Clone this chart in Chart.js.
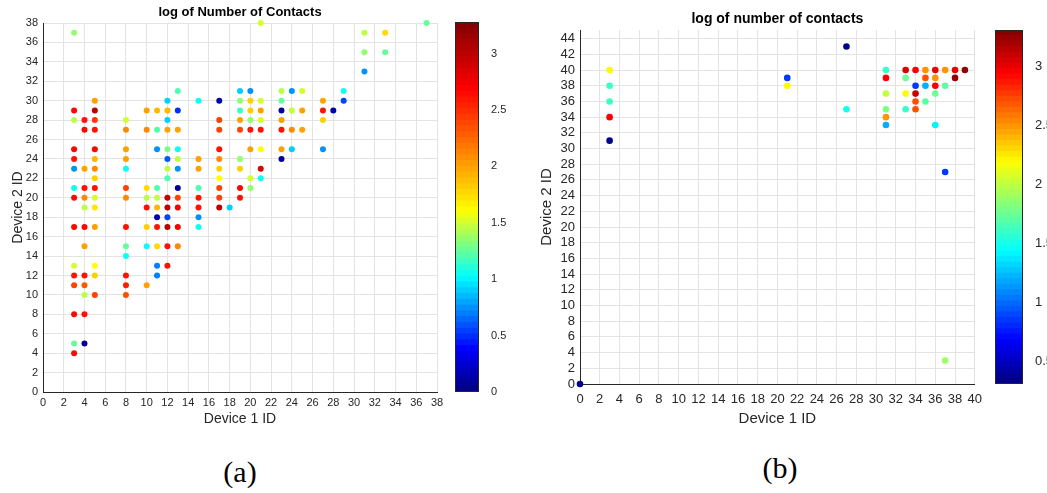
<!DOCTYPE html>
<html>
<head>
<meta charset="utf-8">
<title>log of number of contacts</title>
<script src="https://cdn.jsdelivr.net/npm/chart.js@4.4.1/dist/chart.umd.min.js"></script>
<style>
  html, body { margin: 0; padding: 0; background: #fff; }
  #page { position: relative; width: 1047px; height: 493px; overflow: hidden; }
  #page canvas { position: absolute; top: 0; }
  .caption { position: absolute; width: 120px; text-align: center; font-family: 'Liberation Serif', 'DejaVu Serif', serif; font-size: 30px; line-height: 30px; color: #000; }
</style>
</head>
<body>
<div id="page">
  <canvas id="contacts-a" style="left:0px;width:450px;height:440px" width="450" height="440"></canvas>
  <canvas id="colorbar-a" style="left:450px;width:60px;height:440px" width="60" height="440"></canvas>
  <canvas id="contacts-b" style="left:525px;width:465px;height:440px" width="465" height="440"></canvas>
  <canvas id="colorbar-b" style="left:985px;width:62px;height:440px" width="62" height="440"></canvas>
  <div class="caption" style="left:180px;top:457px">(a)</div>
  <div class="caption" style="left:720px;top:453px">(b)</div>
</div>
<script>
// (a) log of Number of Contacts -- one entry per device pair
const devA1 = [
    3, 3, 3, 3, 3, 3, 3, 3, 3, 3, 3, 3, 3, 3, 3,
    4, 4, 4, 4, 4, 4, 4, 4, 4, 4, 4, 4, 4,
    5, 5, 5, 5, 5, 5, 5, 5, 5, 5, 5, 5, 5, 5, 5,
    8, 8, 8, 8, 8, 8, 8, 8, 8, 8, 8, 8, 8,
    10, 10, 10, 10, 10, 10, 10, 10,
    11, 11, 11, 11, 11, 11, 11, 11, 11, 11, 11,
    12, 12, 12, 12, 12, 12, 12, 12, 12, 12, 12, 12, 12, 12,
    13, 13, 13, 13, 13, 13, 13, 13, 13, 13, 13,
    15, 15, 15, 15, 15, 15, 15, 15,
    17, 17, 17, 17, 17, 17, 17, 17, 17, 17,
    18,
    19, 19, 19, 19, 19, 19, 19, 19, 19,
    20, 20, 20, 20, 20, 20, 20, 20,
    21, 21, 21, 21, 21, 21, 21, 21,
    23, 23, 23, 23, 23, 23, 23,
    24, 24, 24, 24,
    25, 25, 25,
    27, 27, 27, 27,
    28,
    29, 29,
    31, 31, 31,
    33, 33,
    37
];
const devA2 = [
    37, 29, 28, 25, 24, 23, 21, 20, 17, 13, 12, 11, 8, 5, 4,
    28, 27, 23, 21, 20, 19, 17, 15, 12, 11, 10, 8, 5,
    30, 29, 28, 27, 25, 24, 23, 22, 21, 20, 19, 17, 13, 12, 10,
    28, 27, 25, 24, 23, 21, 20, 17, 15, 14, 12, 11, 10,
    29, 27, 21, 20, 19, 17, 15, 11,
    29, 27, 25, 21, 20, 19, 18, 17, 15, 13, 12,
    30, 29, 28, 27, 25, 24, 23, 22, 20, 19, 18, 17, 15, 13,
    31, 29, 27, 25, 24, 23, 21, 20, 19, 17, 15,
    30, 24, 23, 21, 20, 19, 18, 17,
    30, 28, 27, 25, 24, 23, 22, 21, 20, 19,
    19,
    31, 30, 29, 28, 27, 24, 23, 21, 20,
    31, 30, 29, 28, 27, 25, 22, 21,
    38, 30, 29, 28, 27, 25, 23, 22,
    31, 30, 29, 28, 27, 25, 24,
    31, 29, 27, 25,
    31, 29, 27,
    30, 29, 28, 25,
    29,
    31, 30,
    37, 35, 33,
    37, 35,
    38
];
const logA = [
    1.35, 2.65, 1.45, 2.65, 2.6, 0.75, 1.05, 2.65, 2.65, 1.5, 2.6, 2.4, 2.65, 1.25, 2.65,
    2.6, 2.65, 2.0, 2.6, 2.1, 1.45, 2.65, 2.0, 2.6, 2.3, 1.45, 2.6, 0.1,
    2.0, 3.0, 2.45, 2.6, 2.65, 1.9, 2.1, 1.8, 2.6, 1.5, 1.7, 2.0, 1.6, 1.8, 2.4,
    1.5, 2.1, 2.0, 2.0, 1.05, 2.4, 2.1, 2.6, 1.25, 1.05, 2.6, 2.55, 2.35,
    2.0, 2.1, 1.75, 1.45, 2.6, 1.8, 1.05, 2.0,
    1.9, 1.2, 0.75, 1.2, 1.45, 1.9, 0.15, 2.6, 1.75, 0.7, 0.7,
    0.9, 1.9, 0.9, 2.0, 1.3, 0.6, 1.45, 1.2, 2.95, 3.0, 0.55, 3.0, 2.6, 2.6,
    1.2, 0.5, 2.0, 1.05, 1.45, 0.75, 0.1, 2.4, 2.7, 2.7, 2.1,
    1.05, 2.0, 2.0, 1.2, 2.6, 2.6, 0.75, 1.05,
    0.15, 2.4, 2.4, 2.6, 2.1, 1.8, 1.6, 2.4, 2.4, 3.0,
    0.9,
    0.9, 1.35, 1.15, 2.0, 2.4, 1.35, 1.8, 2.65, 2.6,
    0.75, 1.8, 1.8, 1.35, 2.6, 2.0, 1.5, 1.35,
    1.5, 1.5, 2.0, 1.5, 2.6, 1.6, 2.85, 1.05,
    1.45, 1.25, 0.1, 2.0, 2.6, 2.0, 0.1,
    0.75, 1.45, 2.1, 0.9,
    1.5, 2.0, 2.0,
    2.0, 2.6, 1.8, 0.75,
    0.1,
    1.05, 0.55,
    1.45, 1.35, 0.75,
    1.75, 1.25,
    1.25
];

// (b) log of number of contacts
const devB1 = [0, 3, 3, 3, 3, 3, 21, 21, 27, 27, 31, 31, 31, 31, 31, 31, 33, 33, 33, 33,
    34, 34, 34, 34, 34, 35, 35, 35, 35, 36, 36, 36, 36, 36, 37, 37, 37, 37, 38, 38, 39];
const devB2 = [0, 40, 38, 36, 34, 31, 39, 38, 43, 35, 40, 39, 37, 35, 34, 33, 40, 39, 37, 35,
    40, 38, 37, 36, 35, 40, 39, 38, 36, 40, 39, 38, 37, 33, 40, 38, 27, 3, 40, 39, 40];
const logB = [0.35, 2.2, 1.6, 1.6, 2.95, 0.35, 0.85, 2.2, 0.35, 1.5, 1.6, 2.95, 2.0, 1.8, 2.5, 1.2, 3.05, 1.75, 2.2, 1.6,
    2.95, 0.85, 3.1, 2.7, 2.7, 2.5, 2.7, 1.2, 1.7, 3.0, 2.5, 2.95, 1.75, 1.4, 2.5, 1.7, 0.85, 1.9, 3.0, 3.25, 3.25];

// colour limits, colorbar tick labels and where the jet stops sit on each bar
const climA = [0, 3.28];
const climB = [0.31, 3.31];
const cbarTicksA = [0, 0.5, 1, 1.5, 2, 2.5, 3];
const cbarTicksB = [0.5, 1, 1.5, 2, 2.5, 3];
const stopsA = [0, 0.38, 1.02, 1.6, 2.68, 3.28];
const stopsB = [0.31, 0.685, 1.435, 2.185, 2.935, 3.31];

Chart.defaults.font.family = "'Liberation Sans', Arial, sans-serif";
Chart.defaults.color = '#262626';

const GRID = '#e3e3e3';
const AXIS = '#262626';
const JET = [[0, 0, 0.5], [0, 0, 1], [0, 1, 1], [1, 1, 0], [1, 0, 0], [0.5, 0, 0]];

function jetColor(v, stops) {
    let i = 1;
    while (i < stops.length - 1 && v > stops[i]) i++;
    let f = (v - stops[i - 1]) / (stops[i] - stops[i - 1]);
    f = Math.max(0, Math.min(1, f));
    const a = JET[i - 1], b = JET[i];
    const c = a.map((ch, k) => Math.round(255 * (ch + (b[k] - ch) * f)));
    return 'rgb(' + c[0] + ',' + c[1] + ',' + c[2] + ')';
}

// outline round the colorbar
const frame = {
    id: 'frame',
    afterDatasetsDraw(chart) {
        const a = chart.chartArea, ctx = chart.ctx;
        ctx.save();
        ctx.strokeStyle = AXIS;
        ctx.lineWidth = 1;
        ctx.strokeRect(Math.round(a.left) + 0.5, Math.round(a.top) + 0.5,
            Math.round(a.width) - 1, Math.round(a.height) - 1);
        ctx.restore();
    }
};

function drawScatter(id, dev1, dev2, logs, stops, o) {
    const points = dev1.map((x, i) => ({ x: x, y: dev2[i] }));
    return new Chart(document.getElementById(id).getContext('2d'), {
        type: 'scatter',
        data: {
            datasets: [{
                data: points,
                clip: false,
                pointRadius: o.radius,
                pointHoverRadius: o.radius,
                borderWidth: 0,
                backgroundColor: ctx => jetColor(logs[ctx.dataIndex], stops),
                borderColor: ctx => jetColor(logs[ctx.dataIndex], stops)
            }]
        },
        options: {
            responsive: false,
            animation: false,
            events: [],
            layout: { padding: o.padding },
            plugins: {
                legend: { display: false },
                tooltip: { enabled: false },
                title: {
                    display: true,
                    fullSize: false,
                    text: o.title,
                    color: '#000',
                    font: { size: o.titleSize, weight: 'bold' },
                    padding: { top: 0, bottom: o.titleGap }
                }
            },
            scales: {
                x: {
                    type: 'linear', min: 0, max: o.xMax,
                    grid: { color: GRID, drawTicks: false },
                    border: { color: AXIS, width: 1 },
                    ticks: { stepSize: 2, autoSkip: false, maxRotation: 0, minRotation: 0,
                        padding: o.xTickPad, font: { size: o.tickSize } },
                    title: { display: true, text: 'Device 1 ID', font: { size: o.labelSize },
                        padding: { top: 0, bottom: o.xTitlePad } },
                    afterFit: s => { s.height = o.xHeight; }
                },
                y: {
                    type: 'linear', min: 0, max: o.yMax,
                    grid: { color: GRID, drawTicks: false },
                    border: { color: AXIS, width: 1 },
                    ticks: { stepSize: 2, autoSkip: false, includeBounds: false,
                        padding: 5, font: { size: o.tickSize } },
                    title: { display: true, text: 'Device 2 ID', font: { size: o.labelSize },
                        padding: { top: o.yTitlePad, bottom: 0 } },
                    afterFit: s => { s.width = o.yWidth; }
                }
            }
        }
    });
}

function drawColorbar(id, clim, tickValues, stops, o) {
    const n = 64, step = (clim[1] - clim[0]) / n;
    const datasets = [];
    for (let k = 0; k < n; k++) {
        const lo = clim[0] + k * step;
        datasets.push({
            data: [[lo, Math.min(clim[1], lo + step * 1.05)]],
            backgroundColor: jetColor(lo + step / 2, stops),
            borderWidth: 0,
            grouped: false,
            barPercentage: 1,
            categoryPercentage: 1
        });
    }
    return new Chart(document.getElementById(id).getContext('2d'), {
        type: 'bar',
        data: { labels: [''], datasets: datasets },
        options: {
            responsive: false,
            animation: false,
            events: [],
            layout: { padding: o.padding },
            plugins: { legend: { display: false }, tooltip: { enabled: false } },
            scales: {
                x: { display: false },
                y: {
                    position: 'right', min: clim[0], max: clim[1],
                    grid: { display: false },
                    border: { display: false },
                    ticks: { padding: 4, font: { size: o.tickSize },
                        callback: v => String(+v.toFixed(2)) },
                    afterBuildTicks: s => { s.ticks = tickValues.map(v => ({ value: v })); },
                    afterFit: s => { s.width = o.axisWidth; }
                }
            }
        },
        plugins: [frame]
    });
}

drawScatter('contacts-a', devA1, devA2, logA, stopsA, {
    title: 'log of Number of Contacts', titleSize: 13, titleGap: 2.4,
    padding: { left: 0, right: 13, top: 5, bottom: 0 },
    xMax: 38, yMax: 38, radius: 3,
    tickSize: 11, labelSize: 14, xTickPad: 4,
    xHeight: 48, xTitlePad: 12, yWidth: 43, yTitlePad: 9.6
});
drawColorbar('colorbar-a', climA, cbarTicksA, stopsA, {
    padding: { left: 5, right: 0, top: 22, bottom: 48 }, axisWidth: 31, tickSize: 11
});

drawScatter('contacts-b', devB1, devB2, logB, stopsB, {
    title: 'log of number of contacts', titleSize: 14, titleGap: 2.2,
    padding: { left: 0, right: 10, top: 11, bottom: 0 },
    xMax: 40, yMax: 45.1, radius: 3.3,
    tickSize: 13, labelSize: 15, xTickPad: 8,
    xHeight: 56, xTitlePad: 12, yWidth: 55, yTitlePad: 13
});
drawColorbar('colorbar-b', climB, cbarTicksB, stopsB, {
    padding: { left: 10, right: 0, top: 30, bottom: 56 }, axisWidth: 24, tickSize: 13
});
</script>
</body>
</html>
